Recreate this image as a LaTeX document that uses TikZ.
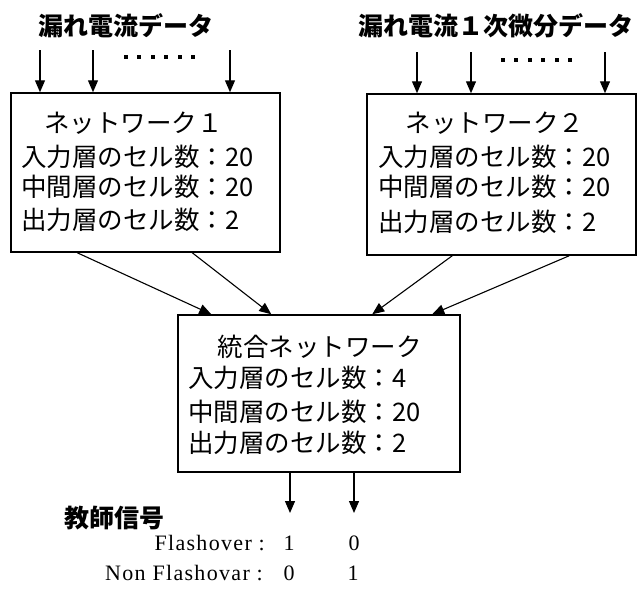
\documentclass[tikz,border=0pt]{standalone}
\usepackage{fontspec}
\setmainfont{Liberation Serif}
\newfontfamily\cjk{Noto Sans CJK JP}
\usetikzlibrary{arrows.meta}
\tikzset{
  box/.style={draw, line width=1.5pt, inner sep=0pt},
  jp/.style={font=\cjk\fontsize{25.5}{25.5}\selectfont, inner sep=0pt, anchor=west},
  jpcenter/.style={font=\cjk\fontsize{25.5}{25.5}\selectfont, inner sep=0pt},
  jptitle/.style={font=\cjk\bfseries\fontsize{25}{25}\selectfont, inner sep=0pt},
  arr/.style={line width=1.3pt, -{Triangle[length=12pt,width=10pt]}},
  link/.style={line width=1.1pt, -{Triangle[length=12pt,width=10pt]}},
  en/.style={font=\fontsize{22}{22}\selectfont\addfontfeature{LetterSpace=6}, inner sep=0pt},
  dot/.style={fill, rectangle, inner sep=0pt, minimum size=4pt},
}
\begin{document}
\begin{tikzpicture}[x=1pt,y=-1pt]
\useasboundingbox (0,0) rectangle (642,597);
% titles
\node[jptitle] (t1) at (126,26) {漏れ電流データ};
\node[jptitle] (t2) at (496,26) {漏れ電流１次微分データ};
% boxes
\node[box, minimum width=269pt, minimum height=159pt] (box1) at (145.5,172.5) {};
\node[box, minimum width=269pt, minimum height=161pt] (box2) at (501.5,174.5) {};
\node[box, minimum width=282pt, minimum height=157pt] (box3) at (319,393.5) {};
% box1 text
\node[jpcenter] (b1t) at (133.5,123) {ネットワーク１};
\node[jp] (b1a) at (21,157) {入力層のセル数：20};
\node[jp] (b1b) at (21,187) {中間層のセル数：20};
\node[jp] (b1c) at (21,220) {出力層のセル数：2};
% box2 text
\node[jpcenter] (b2t) at (495,123) {ネットワーク２};
\node[jp] (b2a) at (378,157) {入力層のセル数：20};
\node[jp] (b2b) at (378,187) {中間層のセル数：20};
\node[jp] (b2c) at (378,222) {出力層のセル数：2};
% box3 text
\node[jpcenter] (b3t) at (319.5,347) {統合ネットワーク};
\node[jp] (b3a) at (188,378) {入力層のセル数：4};
\node[jp] (b3b) at (188,412) {中間層のセル数：20};
\node[jp] (b3c) at (188,443) {出力層のセル数：2};
% input arrows
\coordinate (i1) at (40,50);
\coordinate (i2) at (93,50);
\coordinate (i3) at (230,50);
\coordinate (j1) at (417,52);
\coordinate (j2) at (471,52);
\coordinate (j3) at (605,52);
\foreach \c in {i1,i2,i3} \draw[arr] (\c) -- (\c |- box1.north);
\foreach \c in {j1,j2,j3} \draw[arr] (\c) -- (\c |- box2.north);
% dots
\foreach \k in {0,...,5} {
  \node[dot] (dl\k) at (126+13.4*\k,57) {};
  \node[dot] (dr\k) at (503+13.4*\k,60) {};
}
% links to box3
\draw[link] ([xshift=67pt]box1.south west) -- ([xshift=34pt]box3.north west);
\draw[link] ([xshift=182pt]box1.south west) -- ([xshift=94pt]box3.north west);
\draw[link] ([xshift=86pt]box2.south west) -- ([xshift=195pt]box3.north west);
\draw[link] ([xshift=203pt]box2.south west) -- ([xshift=255pt]box3.north west);
% outputs
\coordinate (o1) at (290,513);
\coordinate (o2) at (354,513);
\draw[arr] (box3.south -| o1) -- (o1);
\draw[arr] (box3.south -| o2) -- (o2);
% teacher
\node[jptitle] (teach) at (114,518) {教師信号};
\node[en, anchor=east] (fl) at (265,543) {Flashover :};
\node[en] (fl1) at (289,543) {1};
\node[en] (fl0) at (354,543) {0};
\node[en, anchor=east] (nf) at (263,573) {Non Flashovar :};
\node[en] (nf0) at (289,573) {0};
\node[en] (nf1) at (353,573) {1};
\end{tikzpicture}
\end{document}
